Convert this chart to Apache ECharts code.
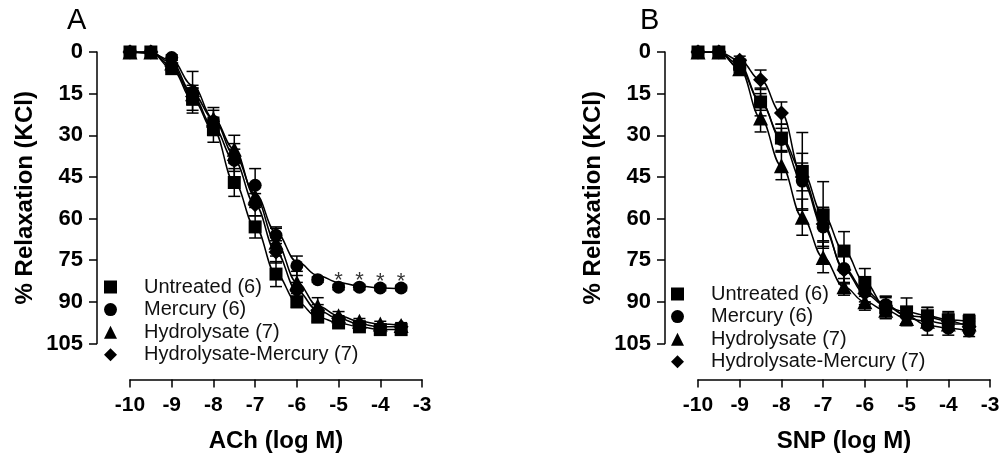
<!DOCTYPE html>
<html>
<head>
<meta charset="utf-8">
<script src="https://cdn.jsdelivr.net/npm/echarts@6/dist/echarts.min.js"></script>
<style>
html, body { margin: 0; background: #fff; }
#chart { width: 1008px; height: 464px; }
</style>
</head>
<body>
<div id="chart"></div>
<script>
// log M concentrations
var doses = [-10, -9.5, -9, -8.5, -8, -7.5, -7, -6.5, -6, -5.5, -5, -4.5, -4, -3.5];
var groupNames = ['Untreated (6)', 'Mercury (6)', 'Hydrolysate (7)', 'Hydrolysate-Mercury (7)'];
var groupSymbols = ['rect', 'circle', 'triangle', 'diamond'];
var yTicks = [0, 15, 30, 45, 60, 75, 90, 105];

// panel A - ACh, mean % relaxation and SEM
var achUntreated = [0, 0, 6, 17, 28, 47, 63, 80, 90, 95.5, 97.6, 99, 100, 100];
var achUntreatedSem = [0, 0, 1, 4, 4.5, 5, 4, 4.5, 2, 1.5, 1, 1, 1, 1];
var achMercury = [0, 0, 2, 14.5, 25, 39, 48, 66, 77, 82, 84.7, 84.7, 85, 85];
var achMercurySem = [0, 0, 1, 7.5, 5, 6, 6, 3, 3.5, 1, 1, 1, 1, 1];
// fitted curve for mercury
var achMercuryFit = [0, 0.5, 3, 12, 24, 37, 51, 65, 75.5, 80.5, 83, 84.3, 85, 85.3];
var achHydrolysate = [0, 0, 4, 15, 24, 35, 52, 68.5, 83, 91.5, 95, 97, 98, 98.5];
var achHydrolysateSem = [0, 0, 1, 3, 3, 5, 4, 5, 4, 3, 1.5, 1, 1, 1];
var achHydMercury = [0, 0, 5, 16, 27, 39, 55, 72, 86, 93, 96, 98, 99, 99];
var achHydMercurySem = [0, 0, 1, 3, 3, 4, 4, 4, 3, 2, 1, 1, 1, 1];
var achSignificant = [10, 11, 12, 13]; // index of points with *

// panel B - SNP
var snpUntreated = [0, 0, 4.7, 18, 31, 43, 58.7, 71.7, 83, 92, 93.6, 95, 96.5, 97];
var snpUntreatedSem = [0, 0, 1.5, 5, 5, 14, 12, 7, 5, 4, 5, 3, 3, 2.5];
var snpMercury = [0, 0, 5.8, 18, 31.5, 46.5, 63, 78, 86, 91, 95, 98.5, 99.5, 100.5];
var snpMercurySem = [0, 0, 1.5, 3, 4, 10, 7, 5, 4, 3, 3, 3.5, 2.5, 2];
var snpHydrolysate = [0, 0, 6, 23.8, 41, 59.5, 74, 84.6, 90, 93, 96, 97, 98, 98];
var snpHydrolysateSem = [0, 0, 1.5, 5, 5, 6.5, 5.5, 3, 3, 3, 2, 2, 2, 2];
var snpHydMercury = [0, 0, 3, 10, 22, 45, 62, 78.5, 87, 91.5, 95, 95.5, 97, 99];
var snpHydMercurySem = [0, 0, 1.5, 3.5, 4, 5, 6, 5, 4, 3, 3, 3.5, 3, 2];

var FONT = 'Liberation Sans, Arial, sans-serif';
var chart = echarts.init(document.getElementById('chart'), null, { renderer: 'canvas' });

function pairs(y) {
	return doses.map(function (x, i) { return [x, y[i]]; });
}
function triples(y, sem) {
	return doses.map(function (x, i) { return [x, y[i], sem[i]]; });
}

function renderBar(params, api) {
	var sem = api.value(2);
	if (!sem) return null;
	var x = api.value(0), m = api.value(1);
	var hi = api.coord([x, m - sem]);
	var lo = api.coord([x, m + sem]);
	var w = 6;
	var st = { stroke: '#000', lineWidth: 1.5 };
	return {
		type: 'group',
		children: [
			{ type: 'line', shape: { x1: hi[0], y1: hi[1], x2: lo[0], y2: lo[1] }, style: st },
			{ type: 'line', shape: { x1: hi[0] - w, y1: hi[1], x2: hi[0] + w, y2: hi[1] }, style: st },
			{ type: 'line', shape: { x1: lo[0] - w, y1: lo[1], x2: lo[0] + w, y2: lo[1] }, style: st }
		]
	};
}

// g = [mean, sem, fit(optional)]
function panelSeries(idx, groups) {
	var out = [];
	groups.forEach(function (g, k) {
		out.push({
			type: 'custom', xAxisIndex: idx, yAxisIndex: idx, z: 2,
			renderItem: renderBar, encode: { x: 0, y: 1 },
			data: triples(g[0], g[1]), silent: true
		});
		out.push({
			type: 'line', xAxisIndex: idx, yAxisIndex: idx, z: 3,
			data: pairs(g[2] || g[0]), smooth: 0.4, smoothMonotone: 'x',
			showSymbol: false, lineStyle: { color: '#000', width: 1.5 }, silent: true
		});
		out.push({
			type: 'scatter', name: groupNames[k], xAxisIndex: idx, yAxisIndex: idx, z: 4,
			symbol: groupSymbols[k], symbolSize: k >= 2 ? 15 : 13,
			itemStyle: { color: '#000', opacity: 1 },
			data: pairs(g[0])
		});
	});
	return out;
}

var series = [].concat(
	panelSeries(0, [[achUntreated, achUntreatedSem], [achMercury, achMercurySem, achMercuryFit],
		[achHydrolysate, achHydrolysateSem], [achHydMercury, achHydMercurySem]]),
	panelSeries(1, [[snpUntreated, snpUntreatedSem], [snpMercury, snpMercurySem],
		[snpHydrolysate, snpHydrolysateSem], [snpHydMercury, snpHydMercurySem]])
);
// significance stars
series.push({
	type: 'scatter', xAxisIndex: 0, yAxisIndex: 0, z: 5, symbolSize: 1,
	itemStyle: { color: 'transparent' },
	label: { show: true, position: 'inside', offset: [0, -6], formatter: '*',
		color: '#000', fontSize: 22, fontFamily: FONT },
	data: achSignificant.map(function (i) { return [doses[i], achMercury[i]]; })
});

function xAx(idx, name) {
	return {
		type: 'value', gridIndex: idx, min: -10, max: -3, interval: 1,
		offset: 36, name: name, nameLocation: 'middle', nameGap: 50,
		nameTextStyle: { fontSize: 24, fontWeight: 'bold', color: '#000', fontFamily: FONT },
		axisLine: { onZero: false, lineStyle: { color: '#000', width: 1.5 } },
		axisTick: { length: 8, lineStyle: { color: '#000', width: 1.5 } },
		axisLabel: { fontSize: 21, fontWeight: 'bold', color: '#000', fontFamily: FONT, margin: 15 },
		splitLine: { show: false }
	};
}
function yAx(idx) {
	return {
		type: 'value', gridIndex: idx, min: yTicks[0], max: yTicks[yTicks.length - 1], interval: 15,
		inverse: true, offset: 33,
		name: '% Relaxation (KCl)', nameLocation: 'middle', nameGap: 60,
		nameTextStyle: { fontSize: 24, fontWeight: 'bold', color: '#000', fontFamily: FONT },
		axisLine: { show: true, onZero: false, lineStyle: { color: '#000', width: 1.5 } },
		axisTick: { show: true, length: 8, lineStyle: { color: '#000', width: 1.5 } },
		axisLabel: { fontSize: 22, fontWeight: 'bold', color: '#000', fontFamily: FONT, margin: 14 },
		splitLine: { show: false }
	};
}
function legendAt(left, top) {
	return {
		orient: 'vertical', left: left, top: top, itemWidth: 13, itemHeight: 13, itemGap: 2.6,
		selectedMode: false, padding: 0,
		textStyle: { fontSize: 20, color: '#111', fontFamily: FONT, padding: [0, 0, 0, 22], lineHeight: 20 },
		data: groupNames.map(function (n, i) { return { name: n, icon: groupSymbols[i] }; })
	};
}

var option = {
	animation: false,
	backgroundColor: '#fff',
	title: [
		{ text: 'A', left: 67, top: 6, padding: 0, textStyle: { fontSize: 29, fontWeight: 'normal', color: '#000', fontFamily: FONT } },
		{ text: 'B', left: 640, top: 6, padding: 0, textStyle: { fontSize: 29, fontWeight: 'normal', color: '#000', fontFamily: FONT } }
	],
	grid: [
		{ left: 130, top: 52, width: 292, height: 291.5 },
		{ left: 698, top: 52, width: 292, height: 291.5 }
	],
	xAxis: [xAx(0, 'ACh (log M)'), xAx(1, 'SNP (log M)')],
	yAxis: [yAx(0), yAx(1)],
	legend: [legendAt(104, 277), legendAt(671, 284)],
	series: series
};
chart.setOption(option);
</script>
</body>
</html>
